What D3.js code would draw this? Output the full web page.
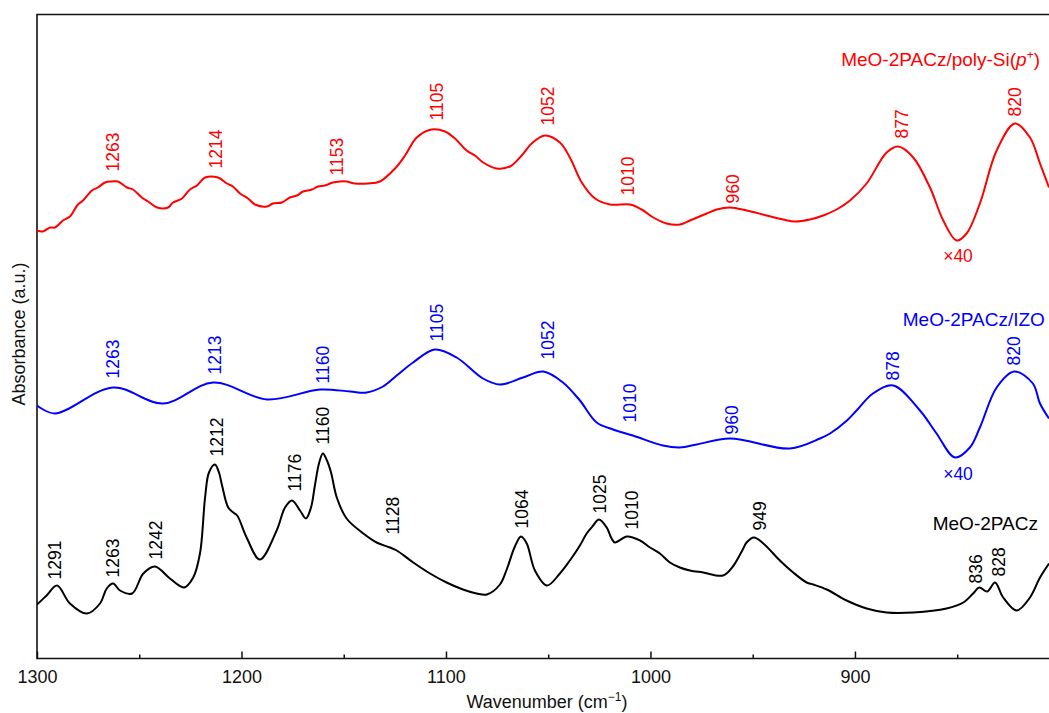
<!DOCTYPE html>
<html><head><meta charset="utf-8">
<script src="https://cdn.jsdelivr.net/npm/d3@7"></script>
<style>
body{margin:0;background:#fff}
svg{display:block}
text{font-family:"Liberation Sans",Arial,Helvetica,sans-serif}
</style>
</head><body>
<svg id="chart" width="1049" height="713"></svg>
<script>
// ---------- DATA ----------
// MeO-2PACz (black)
const blackWavenumber = [1300,1295.3,1290.2,1283.9,1275.6,1269.2,1265.9,1262.8,1259.4,1253.5,1248.0,1242.3,1235.0,1228.1,1223.6,1220.3,1217.8,1215.9,1213.0,1211.0,1209.5,1206.5,1204.0,1202.1,1197.5,1191.0,1182.8,1178.7,1175.3,1171.4,1168.5,1166.0,1164.1,1162.1,1160.2,1158.2,1156.2,1153.4,1148.6,1140.4,1133.9,1127.4,1124.1,1116.0,1107.8,1099.7,1091.7,1085.0,1080.0,1073.6,1070.3,1066.3,1063.3,1060.5,1056.5,1050.6,1044.3,1039.4,1034.5,1031.2,1028.0,1025.2,1021.4,1019.0,1017.4,1011.5,1005.1,1000.2,995.4,990.5,985.6,980.7,974.3,964.5,959.7,954.6,953.0,949.4,944.8,936.7,930.2,923.6,920.4,913.8,904.1,894.3,884.5,871.5,855.2,847.0,842.2,839.2,835.3,831.5,827.5,820.9,814.4,809.5,805.1];
const blackAbsorbance = [0.54,0.63,0.73,0.55,0.45,0.55,0.70,0.75,0.68,0.65,0.85,0.92,0.80,0.71,0.81,1.05,1.61,1.86,1.94,1.86,1.73,1.51,1.46,1.43,1.21,0.99,1.28,1.51,1.58,1.48,1.40,1.51,1.73,1.95,2.05,1.98,1.86,1.61,1.40,1.25,1.16,1.11,1.08,0.96,0.85,0.76,0.69,0.65,0.64,0.74,0.89,1.12,1.22,1.15,0.88,0.73,0.85,0.98,1.13,1.25,1.33,1.39,1.31,1.20,1.16,1.22,1.18,1.11,1.05,0.96,0.91,0.88,0.86,0.83,0.92,1.10,1.16,1.21,1.15,0.98,0.86,0.76,0.74,0.69,0.58,0.50,0.46,0.46,0.50,0.56,0.65,0.71,0.67,0.76,0.61,0.48,0.61,0.81,0.95];

// MeO-2PACz/IZO (blue, x40)
const izoWavenumber = [1300,1291.2,1262.8,1238.4,1213.9,1187.5,1161.6,1146.9,1138.8,1130.8,1124.1,1116.1,1105.4,1094.8,1081.9,1073.6,1062.3,1052.4,1042.8,1034.5,1026.3,1018.3,1008.6,993.9,985.6,977.4,961.1,931.8,917.1,912.2,903.9,899.2,891.2,881.3,868.2,860.1,851.1,843.8,838.9,830.7,822.1,813.0,809.5,805.1];
const izoAbsorbance = [2.53,2.45,2.71,2.55,2.76,2.59,2.69,2.67,2.66,2.72,2.83,2.96,3.09,3.01,2.80,2.74,2.81,2.87,2.76,2.58,2.36,2.29,2.23,2.13,2.11,2.14,2.20,2.10,2.20,2.25,2.38,2.48,2.65,2.73,2.48,2.25,2.01,2.11,2.31,2.71,2.87,2.75,2.55,2.40];

// MeO-2PACz/poly-Si(p+) (red, x40)
const polySiWavenumber = [1300,1297.1,1293.6,1291.2,1287.3,1283.9,1280.0,1277.5,1273.1,1270.2,1266.7,1263.3,1260.4,1256.0,1253.1,1248.7,1245.7,1241.3,1235.9,1233.5,1229.1,1225.2,1221.8,1217.8,1211.5,1207.1,1204.2,1200.7,1196.8,1193.4,1187.5,1184.6,1180.2,1176.3,1172.9,1169.9,1165.5,1162.6,1159.2,1155.3,1151.8,1148.6,1144.5,1138.1,1132.3,1124.9,1120.0,1114.3,1107.0,1100.5,1095.6,1089.9,1085.8,1081.8,1075.2,1068.7,1063.0,1058.1,1051.6,1044.3,1039.4,1033.6,1027.1,1019.8,1010.0,1004.3,998.6,992.1,985.6,980.7,972.5,967.6,961.1,953.0,943.2,935.1,929.3,922.0,915.5,909.0,902.4,894.3,884.5,878.8,871.5,863.3,856.8,850.3,845.4,838.9,830.7,821.8,814.4,809.5,805.1];
const polySiAbsorbance = [4.28,4.27,4.31,4.31,4.38,4.42,4.54,4.58,4.68,4.71,4.76,4.77,4.77,4.71,4.69,4.61,4.57,4.51,4.51,4.56,4.60,4.69,4.73,4.81,4.81,4.75,4.72,4.65,4.60,4.54,4.52,4.55,4.56,4.61,4.63,4.67,4.69,4.72,4.73,4.76,4.77,4.77,4.75,4.75,4.77,4.90,5.03,5.21,5.29,5.27,5.20,5.08,5.03,4.96,4.90,4.92,5.03,5.15,5.23,5.16,5.01,4.76,4.60,4.54,4.54,4.49,4.41,4.35,4.34,4.38,4.45,4.49,4.51,4.48,4.43,4.39,4.37,4.39,4.43,4.49,4.58,4.75,5.06,5.12,5.01,4.71,4.38,4.18,4.25,4.55,5.08,5.35,5.21,4.95,4.71];

// Peak labels (text), their positions (cm-1) and label start heights (a.u.)
const blackPeaks   = ["1291","1263","1242","1212","1176","1160","1128","1064","1025","1010","949","836","828"];
const blackPeakAt  = [1291.2,1262.7,1242.0,1212.1,1173.8,1160.0,1125.8,1063.0,1024.7,1009.2,946.5,840.8,829.4];
const blackPeakY   = [0.79,0.81,0.99,2.02,1.67,2.14,1.24,1.30,1.45,1.29,1.28,0.75,0.82];
const izoPeaks     = ["1263","1213","1160","1105","1052","1010","960","878","820"];
const izoPeakAt    = [1262.7,1213.0,1160.0,1104.6,1050.0,1010.0,960.3,881.3,822.1];
const izoPeakY     = [2.80,2.84,2.75,3.17,2.99,2.36,2.24,2.78,2.93];
const polySiPeaks  = ["1263","1214","1153","1105","1052","1010","960","877","820"];
const polySiPeakAt = [1262.8,1212.5,1153.3,1104.5,1050.1,1011.0,959.8,877.2,821.8];
const polySiPeakY  = [4.87,4.90,4.83,5.38,5.33,4.63,4.55,5.20,5.42];

// Axis ticks
const xMajorTicks = [1300,1200,1100,1000,900];
const xMinorTicks = [1250,1150,1050,950,850];

// ---------- CHART ----------
const svg = d3.select("#chart");
const plotL = 37, plotR = 1049, plotT = 14.5, plotB = 658.5;
const x = d3.scaleLinear().domain([1300, 805.1]).range([plotL, plotR]);
const y = d3.scaleLinear().domain([0, 6.44]).range([plotB, plotT]);

svg.append("defs").append("clipPath").attr("id","clip")
  .append("rect").attr("x",plotL).attr("y",plotT).attr("width",plotR-plotL).attr("height",plotB-plotT);

// axes ticks
const gMaj = svg.append("g").attr("transform",`translate(0,${plotB})`)
  .call(d3.axisBottom(x).tickValues(xMajorTicks).tickSize(-7).tickPadding(12).tickFormat(d3.format("d")));
const gMin = svg.append("g").attr("transform",`translate(0,${plotB})`)
  .call(d3.axisBottom(x).tickValues(xMinorTicks).tickSize(-4).tickFormat(""));
[gMaj,gMin].forEach(g=>{
  g.select(".domain").remove();
  g.selectAll(".tick line").attr("stroke","#111").attr("stroke-width",1.5);
  g.selectAll(".tick text").attr("font-size",18).attr("fill","#111")
   .style("font-family",'"Liberation Sans",Arial,sans-serif');
});

// frame (left, top, bottom)
svg.append("path")
  .attr("d",`M${plotR},${plotT}H${plotL}V${plotB}H${plotR}`)
  .attr("fill","none").attr("stroke","#111").attr("stroke-width",1.6);

// lines
const line = d3.line().x(d=>x(d[0])).y(d=>y(d[1])).curve(d3.curveCatmullRom.alpha(0.5));
const series = [
  {w: blackWavenumber, a: blackAbsorbance, color:"#000000"},
  {w: izoWavenumber, a: izoAbsorbance, color:"#0000ff"},
  {w: polySiWavenumber, a: polySiAbsorbance, color:"#ff0000"}
];
const gLines = svg.append("g").attr("clip-path","url(#clip)");
series.forEach(s=>{
  gLines.append("path")
    .datum(s.w.map((w,i)=>[w,s.a[i]]))
    .attr("d",line).attr("fill","none").attr("stroke",s.color)
    .attr("stroke-width",2).attr("stroke-linejoin","round");
});

// peak labels
function peakLabels(texts, at, ys, color){
  svg.append("g").selectAll("text").data(texts).join("text")
    .attr("transform",(d,i)=>`translate(${x(at[i])},${y(ys[i])}) rotate(-90)`)
    .attr("dy","0.35em").attr("text-anchor","start")
    .attr("font-size",17.5).attr("fill",color).text(d=>d);
}
peakLabels(blackPeaks, blackPeakAt, blackPeakY, "#000");
peakLabels(izoPeaks, izoPeakAt, izoPeakY, "#0000ff");
peakLabels(polySiPeaks, polySiPeakAt, polySiPeakY, "#ff0000");

// x40 marks
svg.append("text").attr("x",x(849.6)).attr("y",y(3.965)).attr("text-anchor","middle")
  .attr("font-size",17.5).attr("fill","#ff0000").text("×40");
svg.append("text").attr("x",x(849.6)).attr("y",y(1.785)).attr("text-anchor","middle")
  .attr("font-size",17.5).attr("fill","#0000ff").text("×40");

// series names
const t1 = svg.append("text").attr("x",x(809.5)).attr("y",y(5.925)).attr("text-anchor","end")
  .attr("font-size",19).attr("fill","#ff0000");
t1.append("tspan").text("MeO-2PACz/poly-Si(");
t1.append("tspan").attr("font-style","italic").text("p");
t1.append("tspan").attr("font-size",12).attr("baseline-shift","super").text("+");
t1.append("tspan").text(")");
svg.append("text").attr("x",x(807.1)).attr("y",y(3.325)).attr("text-anchor","end")
  .attr("font-size",19).attr("fill","#0000ff").text("MeO-2PACz/IZO");
svg.append("text").attr("x",x(810.5)).attr("y",y(1.285)).attr("text-anchor","end")
  .attr("font-size",19).attr("fill","#000").text("MeO-2PACz");

// axis titles
const xt = svg.append("text").attr("x",(plotL+plotR)/2+4).attr("y",708).attr("text-anchor","middle")
  .attr("font-size",18).attr("fill","#111");
xt.append("tspan").text("Wavenumber (cm");
xt.append("tspan").attr("font-size",12).attr("baseline-shift","super").text("\u22121");
xt.append("tspan").text(")");
svg.append("text").attr("transform","translate(25,334) rotate(-90)").attr("text-anchor","middle")
  .attr("font-size",18).attr("fill","#111").text("Absorbance (a.u.)");
</script>
</body></html>
